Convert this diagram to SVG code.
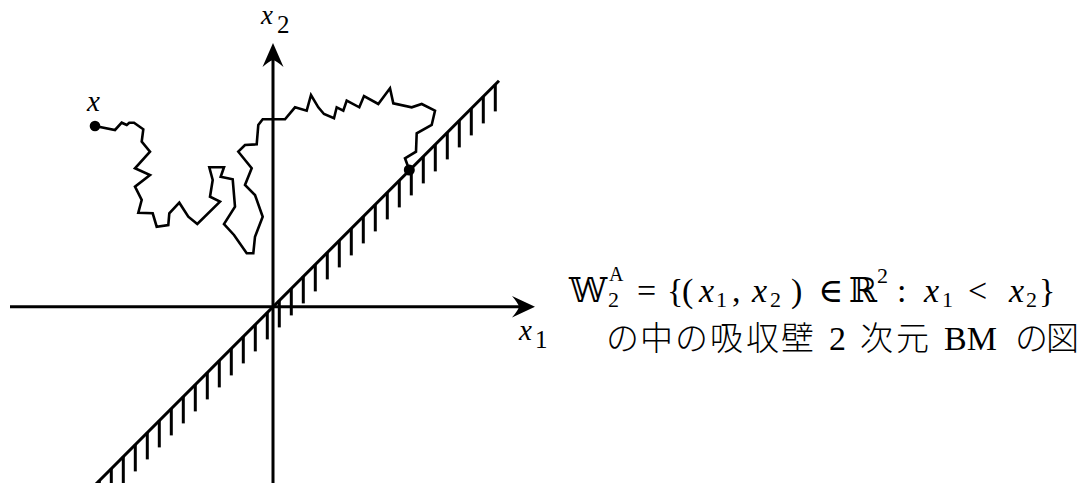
<svg xmlns="http://www.w3.org/2000/svg" width="1082" height="483" viewBox="0 0 1082 483">
<style>
.ax{stroke:#000;stroke-width:3;fill:none}
.wall{stroke:#000;stroke-width:3;fill:none}
.hatch{stroke:#000;stroke-width:3}
.bm{stroke:#000;stroke-width:2.6;fill:none;stroke-linejoin:miter}
.mi{font-family:"Liberation Serif","DejaVu Serif",serif;font-style:italic;fill:#000}
.mr{font-family:"Liberation Serif","DejaVu Serif","DejaVu Sans",serif;fill:#000}
.cjk{font-family:"Noto Sans CJK JP","Noto Sans CJK SC",sans-serif;font-size:33px;fill:#000;font-weight:300}
</style>
<rect width="1082" height="483" fill="#fff"/>
<g id="axes">
  <line class="ax" x1="10" y1="306.7" x2="524" y2="306.7"/>
  <path d="M535,306.7 L512,296 Q518,303 519,306.7 Q518,310.5 512,317.5 Z" fill="#000"/>
  <line class="ax" x1="273" y1="483" x2="273" y2="56"/>
  <path d="M273,43 L262.5,67 Q269.5,61 273,60 Q276.5,61 283.5,67 Z" fill="#000"/>
</g>
<g id="wall">
  <line class="wall" x1="90" y1="490" x2="499" y2="80.7"/>
  <g id="hatches" class="hatch">
    <line x1="99.3" y1="480.4" x2="99.3" y2="507.4"/>
    <line x1="111.3" y1="468.4" x2="111.3" y2="495.4"/>
    <line x1="123.3" y1="456.4" x2="123.3" y2="483.4"/>
    <line x1="135.3" y1="444.4" x2="135.3" y2="471.4"/>
    <line x1="147.3" y1="432.4" x2="147.3" y2="459.4"/>
    <line x1="159.3" y1="420.4" x2="159.3" y2="447.4"/>
    <line x1="171.3" y1="408.4" x2="171.3" y2="435.4"/>
    <line x1="183.3" y1="396.4" x2="183.3" y2="423.4"/>
    <line x1="195.3" y1="384.4" x2="195.3" y2="411.4"/>
    <line x1="207.3" y1="372.4" x2="207.3" y2="399.4"/>
    <line x1="219.3" y1="360.4" x2="219.3" y2="387.4"/>
    <line x1="231.3" y1="348.4" x2="231.3" y2="375.4"/>
    <line x1="243.3" y1="336.4" x2="243.3" y2="363.4"/>
    <line x1="255.3" y1="324.4" x2="255.3" y2="351.4"/>
    <line x1="267.3" y1="312.4" x2="267.3" y2="339.4"/>
    <line x1="279.3" y1="300.4" x2="279.3" y2="327.4"/>
    <line x1="291.3" y1="288.4" x2="291.3" y2="315.4"/>
    <line x1="303.3" y1="276.4" x2="303.3" y2="303.4"/>
    <line x1="315.3" y1="264.4" x2="315.3" y2="291.4"/>
    <line x1="327.3" y1="252.4" x2="327.3" y2="279.4"/>
    <line x1="339.3" y1="240.4" x2="339.3" y2="267.4"/>
    <line x1="351.3" y1="228.4" x2="351.3" y2="255.4"/>
    <line x1="363.3" y1="216.4" x2="363.3" y2="243.4"/>
    <line x1="375.3" y1="204.4" x2="375.3" y2="231.4"/>
    <line x1="387.3" y1="192.4" x2="387.3" y2="219.4"/>
    <line x1="399.3" y1="180.4" x2="399.3" y2="207.4"/>
    <line x1="411.3" y1="168.4" x2="411.3" y2="195.4"/>
    <line x1="423.3" y1="156.4" x2="423.3" y2="183.4"/>
    <line x1="435.3" y1="144.4" x2="435.3" y2="171.4"/>
    <line x1="447.3" y1="132.4" x2="447.3" y2="159.4"/>
    <line x1="459.3" y1="120.4" x2="459.3" y2="147.4"/>
    <line x1="471.3" y1="108.4" x2="471.3" y2="135.4"/>
    <line x1="483.3" y1="96.4" x2="483.3" y2="123.4"/>
    <line x1="495.3" y1="84.4" x2="495.3" y2="111.4"/>
  </g>
</g>
<g id="connectors">
  <polyline id="bm-path" class="bm" points="95,126 115,130 121.7,122.7 126.7,125 129.3,122.7 134,122.7 143.3,129.3 141.7,141.7 150,151.7 135,168.3 150,175 135,186.7 141.7,200 138.3,212.7 152.7,213.3 156.7,226.7 168.3,225 169.3,213.3 179.3,202.7 188.3,216.7 197.3,224 220,201.7 210,196.7 212.7,180 209.3,167.3 224,167.3 220.7,176.7 232.7,179.3 235,206.7 224,224 234,235 246.7,253.3 253.3,253.3 255,236.7 262.7,216.7 255,195 245,185 251.7,168.3 238.3,151.7 245,145 256.7,144.3 258.3,125 262.7,119.3 285,119.3 295,107.3 306.7,110.7 311,95 318.3,107.3 324,114 334,118.3 336.7,107.3 343.3,110.7 346.7,100.7 359.3,107.3 364,96 378.3,104 390,88.3 393.3,103.3 411.7,107.3 421.7,104 435,110.7 431.7,125 416.7,133.3 416,151.7 405,158.3 408.3,167.3 409.3,170"/>
</g>
<g id="start">
  <circle cx="95" cy="126" r="5.3" fill="#000"/>
  <text class="mi" x="87" y="111" font-size="29">x</text>
</g>
<g id="end">
  <circle cx="409.3" cy="170" r="5.5" fill="#000"/>
</g>
<g id="label-x2">
  <text class="mi" x="261" y="24" font-size="27">x</text>
  <text class="mr" x="277" y="33" font-size="25">2</text>
</g>
<g id="label-x1">
  <text class="mi" x="519" y="340" font-size="29">x</text>
  <text class="mr" x="535" y="348" font-size="25">1</text>
</g>
<g id="caption">
  <text class="mr" font-size="34">
    <tspan x="569" y="302">𝕎</tspan>
    <tspan x="609" y="281" font-size="20">A</tspan>
    <tspan x="608" y="307" font-size="22">2</tspan>
    <tspan x="637" y="302">=</tspan>
    <tspan x="667" y="302">{</tspan>
    <tspan x="682" y="302">(</tspan>
    <tspan x="699" y="302" font-style="italic">x</tspan>
    <tspan x="716" y="307" font-size="22">1</tspan>
    <tspan x="732" y="302">,</tspan>
    <tspan x="752" y="302" font-style="italic">x</tspan>
    <tspan x="770" y="307" font-size="22">2</tspan>
    <tspan x="791" y="302">)</tspan>
    <tspan x="818" y="302">∈</tspan>
    <tspan x="849" y="302">ℝ</tspan>
    <tspan x="877" y="283" font-size="22">2</tspan>
    <tspan x="897" y="302">:</tspan>
    <tspan x="924" y="302" font-style="italic">x</tspan>
    <tspan x="942" y="307" font-size="22">1</tspan>
    <tspan x="968" y="302">&lt;</tspan>
    <tspan x="1009" y="302" font-style="italic">x</tspan>
    <tspan x="1026" y="307" font-size="22">2</tspan>
    <tspan x="1039" y="302">}</tspan>
  </text>
  <text class="cjk" y="350">
    <tspan x="606">の</tspan><tspan x="640">中</tspan><tspan x="675">の</tspan><tspan x="710">吸</tspan><tspan x="746">収</tspan><tspan x="781">壁</tspan>
    <tspan x="829" class="mr" font-size="34">2</tspan>
    <tspan x="860">次</tspan><tspan x="896">元</tspan>
    <tspan x="944" class="mr" font-size="34">BM</tspan>
    <tspan x="1015">の</tspan><tspan x="1046">図</tspan>
  </text>
</g>
</svg>
